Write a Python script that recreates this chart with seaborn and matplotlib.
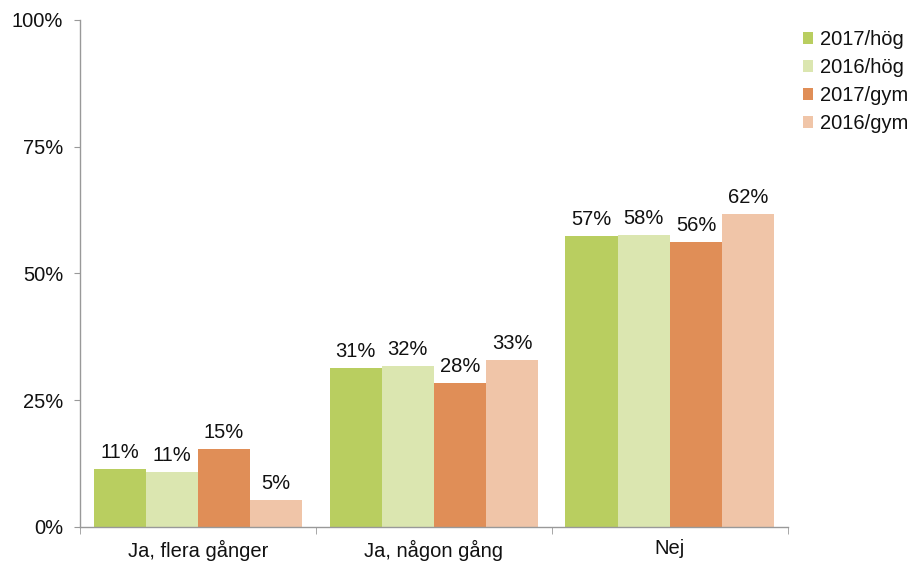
import pandas as pd
import seaborn as sns
import matplotlib.pyplot as plt
from matplotlib.ticker import FixedLocator, PercentFormatter

categories = ["Ja, flera gånger", "Ja, någon gång", "Nej"]
series = ["2017/hög", "2016/hög", "2017/gym", "2016/gym"]
v_2017_hog = [11.4, 31.4, 57.4]
v_2016_hog = [10.8, 31.7, 57.6]
v_2017_gym = [15.3, 28.4, 56.3]
v_2016_gym = [5.4, 33.0, 61.8]

colors = ["#B9CE60", "#DBE6B0", "#E08E57", "#F0C5A8"]

rows = []
for s, vals in zip(series, [v_2017_hog, v_2016_hog, v_2017_gym, v_2016_gym]):
    for c, v in zip(categories, vals):
        rows.append({"Kategori": c, "Serie": s, "Andel": v})
df = pd.DataFrame(rows)

sns.set_style("white")
plt.rcParams["font.family"] = ["Liberation Sans", "DejaVu Sans"]

fig = plt.figure(figsize=(9.11, 5.63), dpi=100)
ax = fig.add_axes([0.0878, 0.064, 0.777, 0.9005])

sns.barplot(data=df, x="Kategori", y="Andel", hue="Serie", order=categories,
            hue_order=series, palette=colors, width=0.885, saturation=1,
            linewidth=0, ax=ax, legend=True)

for cont in ax.containers:
    ax.bar_label(cont, labels=[f"{v:.0f}%" for v in cont.datavalues],
                 padding=5, fontsize=14.5, color="#111111")

ax.set_xlim(-0.5, 2.5)
ax.set_ylim(0, 100)
ax.set_yticks([0, 25, 50, 75, 100])
ax.yaxis.set_major_formatter(PercentFormatter(decimals=0))
ax.xaxis.set_minor_locator(FixedLocator([-0.5, 0.5, 1.5, 2.5]))
ax.tick_params(axis="x", which="major", length=0, labelsize=14.5, pad=9,
               labelcolor="#111111")
ax.tick_params(axis="x", which="minor", length=5, color="#999999", direction="out", bottom=True)
ax.tick_params(axis="y", length=4, color="#999999", direction="out", left=True,
               labelsize=14.5, pad=8, labelcolor="#111111")
ax.set_xlabel("")
ax.set_ylabel("")
for side in ["top", "right"]:
    ax.spines[side].set_visible(False)
for side in ["left", "bottom"]:
    ax.spines[side].set_color("#999999")
    ax.spines[side].set_linewidth(1)

leg = ax.legend(loc="upper left", bbox_to_anchor=(0.9956, 1.016), frameon=False,
                fontsize=14.5, handlelength=0.5, handleheight=0.5,
                handletextpad=0.35, labelspacing=0.45)
for t in leg.get_texts():
    t.set_color("#111111")

fig.savefig("out.png", dpi=100)
